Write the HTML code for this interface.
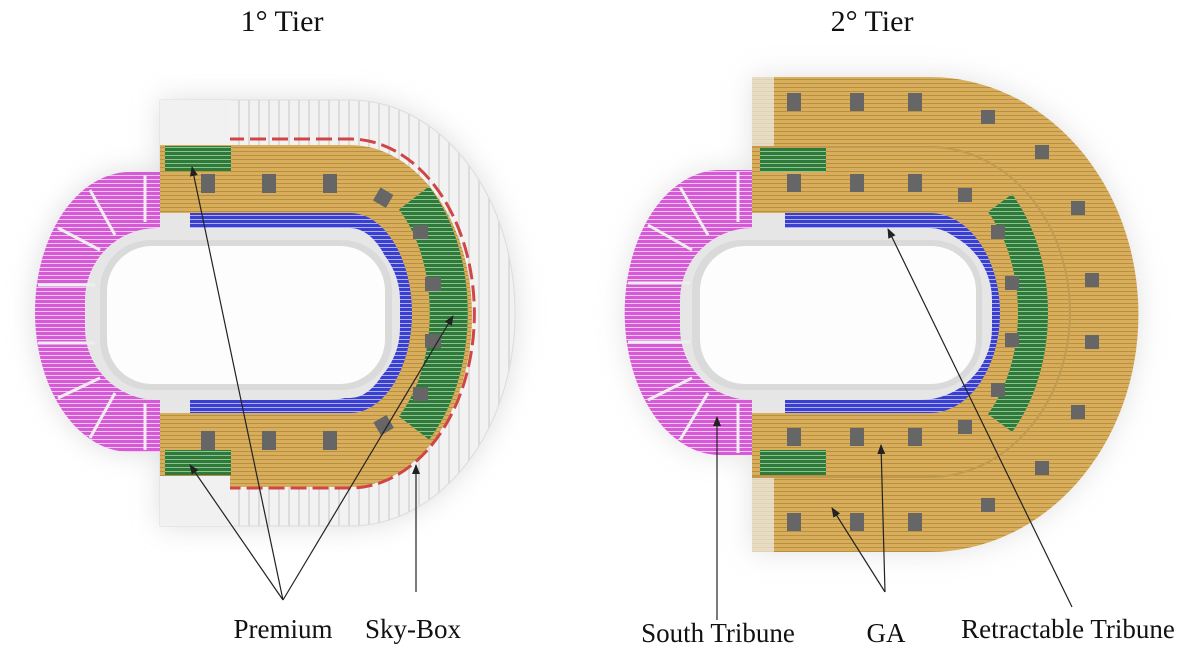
<!DOCTYPE html>
<html><head><meta charset="utf-8"><style>
html,body{margin:0;padding:0;background:#fff;}
svg{display:block}
text{font-family:"Liberation Serif",serif;fill:#111}
</style></head><body>
<svg width="1200" height="654" viewBox="0 0 1200 654" xmlns="http://www.w3.org/2000/svg">
<defs>
<pattern id="gold" width="6" height="4" patternUnits="userSpaceOnUse"><rect width="6" height="4" fill="#d8ae5c"/><rect y="3" width="6" height="1" fill="#b8903f"/></pattern>
<pattern id="pink" width="6" height="4" patternUnits="userSpaceOnUse"><rect width="6" height="4" fill="#d65ad6"/><rect y="3" width="6" height="1" fill="#f4c8f4"/></pattern>
<pattern id="blue" width="6" height="4" patternUnits="userSpaceOnUse"><rect width="6" height="4" fill="#3b3fd0"/><rect y="3" width="6" height="1" fill="#aab0f0"/></pattern>
<pattern id="green" width="6" height="4" patternUnits="userSpaceOnUse"><rect width="6" height="4" fill="#2f7a3a"/><rect y="3" width="6" height="1" fill="#8cc490"/></pattern>
<pattern id="white" width="10" height="6" patternUnits="userSpaceOnUse"><rect width="10" height="6" fill="#f2f2f2"/><rect x="8" width="2" height="6" fill="#dcdcdc"/></pattern>
<filter id="sh" x="-30%" y="-30%" width="160%" height="160%"><feGaussianBlur stdDeviation="14"/></filter>
<marker id="ah" markerWidth="10" markerHeight="10" refX="9" refY="5" orient="auto" markerUnits="userSpaceOnUse"><path d="M0,1 L10,5 L0,9 Z" fill="#222"/></marker>
</defs>

<text x="282" y="31" font-size="30" text-anchor="middle">1° Tier</text>
<text x="872" y="31" font-size="30" text-anchor="middle">2° Tier</text>

<!-- LEFT ARENA -->
<path d="M160,100 H350 A165,213 0 0 1 350,526 H160 V452 H130 A95,140 0 0 1 130,172 H160 Z" fill="#cfcfcf" filter="url(#sh)" opacity="0.7"/>
<path d="M160,100 H350 A165,213 0 0 1 350,526 H160 Z" fill="url(#white)" stroke="#dcdcdc"/>
<path d="M160,145 H350 A122,171 0 0 1 350,487 H160 Z" fill="url(#gold)"/>
<path d="M228,139 H350 A124,174 0 0 1 350,488 H228" fill="none" stroke="#d04545" stroke-width="3" stroke-dasharray="16 6"/>
<path d="M414,198 A97,150 0 0 1 414,428" fill="none" stroke="url(#green)" stroke-width="38"/>
<rect x="165" y="146" width="66" height="25" fill="url(#green)"/>
<rect x="165" y="450" width="66" height="25" fill="url(#green)"/>
<rect x="160" y="100" width="70" height="45" fill="#f1f1f1"/>
<rect x="160" y="476" width="70" height="50" fill="#f1f1f1"/>
<path d="M160,213 H350 A62,100 0 0 1 350,413 H160 Z" fill="url(#blue)"/>
<rect x="160" y="213" width="30" height="200" fill="#e6e6e6"/>
<path d="M160,228 H350 A47,85 0 0 1 350,398 H160 Z" fill="#e6e6e6"/>
<path d="M160,172 H130 A95,140 0 0 0 130,452 H160 Z" fill="url(#pink)"/>
<rect x="85" y="228" width="315" height="172" rx="72" fill="#e6e6e6"/>
<rect x="100" y="240" width="292" height="150" rx="50" fill="#dadada"/>
<rect x="107" y="246" width="278" height="138" rx="45" fill="#fdfdfd"/>
<g fill="#666">
<rect x="201" y="174" width="14" height="19"/><rect x="262" y="174" width="14" height="19"/><rect x="323" y="174" width="14" height="19"/>
<rect x="201" y="431" width="14" height="19"/><rect x="262" y="431" width="14" height="19"/><rect x="323" y="431" width="14" height="19"/>
<rect x="376" y="190" width="15" height="15" transform="rotate(30 383 197)"/>
<rect x="413" y="225" width="15" height="14"/>
<rect x="425" y="277" width="16" height="14"/><rect x="425" y="334" width="16" height="14"/>
<rect x="413" y="387" width="15" height="14"/>
<rect x="376" y="418" width="15" height="15" transform="rotate(-30 383 425)"/>
</g>
<g stroke="#eee" stroke-width="3">
<line x1="145" y1="175" x2="145" y2="222"/><line x1="145" y1="403" x2="145" y2="450"/>
<line x1="38" y1="285" x2="95" y2="285"/><line x1="38" y1="343" x2="95" y2="343"/>
<line x1="58" y1="228" x2="100" y2="250"/><line x1="58" y1="398" x2="100" y2="378"/>
<line x1="90" y1="190" x2="115" y2="235"/><line x1="90" y1="438" x2="115" y2="393"/>
</g>

<!-- RIGHT ARENA -->
<path d="M752,77 H930 A208,237 0 0 1 930,552 H752 V455 H720 A95,142 0 0 1 720,170 H752 Z" fill="#cfcfcf" filter="url(#sh)" opacity="0.6"/>
<path d="M752,77 H930 A208,237 0 0 1 930,552 H752 Z" fill="url(#gold)"/>
<rect x="752" y="77" width="22" height="70" fill="#eee" opacity="0.7"/>
<rect x="752" y="478" width="22" height="74" fill="#eee" opacity="0.7"/>
<path d="M752,147 H930 A140,165 0 0 1 930,477 H752" fill="none" stroke="#bf9a50" stroke-width="2"/>
<path d="M1000,203 A103,150 0 0 1 1000,423" fill="none" stroke="url(#green)" stroke-width="30"/>
<rect x="760" y="148" width="66" height="24" fill="url(#green)"/>
<rect x="760" y="450" width="66" height="25" fill="url(#green)"/>
<path d="M752,213 H930 A70,100 0 0 1 930,413 H752 Z" fill="url(#blue)"/>
<rect x="752" y="213" width="33" height="200" fill="#e6e6e6"/>
<path d="M752,228 H930 A55,85 0 0 1 930,398 H752 Z" fill="#e6e6e6"/>
<path d="M752,170 H720 A95,142 0 0 0 720,455 H752 Z" fill="url(#pink)"/>
<rect x="680" y="228" width="312" height="172" rx="72" fill="#e6e6e6"/>
<rect x="692" y="240" width="290" height="150" rx="50" fill="#dadada"/>
<rect x="700" y="246" width="276" height="138" rx="45" fill="#fdfdfd"/>
<g fill="#666">
<rect x="787" y="93" width="14" height="18"/><rect x="850" y="93" width="14" height="18"/><rect x="908" y="93" width="14" height="18"/>
<rect x="981" y="110" width="14" height="14"/><rect x="1035" y="145" width="14" height="14"/><rect x="1071" y="201" width="14" height="14"/>
<rect x="1085" y="273" width="14" height="14"/><rect x="1085" y="335" width="14" height="14"/><rect x="1071" y="405" width="14" height="14"/>
<rect x="1035" y="461" width="14" height="14"/><rect x="981" y="498" width="14" height="14"/>
<rect x="787" y="513" width="14" height="18"/><rect x="850" y="513" width="14" height="18"/><rect x="908" y="513" width="14" height="18"/>
<rect x="787" y="174" width="14" height="18"/><rect x="850" y="174" width="14" height="18"/><rect x="908" y="174" width="14" height="18"/>
<rect x="958" y="188" width="14" height="14"/><rect x="991" y="225" width="14" height="14"/><rect x="1005" y="276" width="14" height="14"/>
<rect x="1005" y="333" width="14" height="14"/><rect x="991" y="383" width="14" height="14"/><rect x="958" y="420" width="14" height="14"/>
<rect x="787" y="428" width="14" height="18"/><rect x="850" y="428" width="14" height="18"/><rect x="908" y="428" width="14" height="18"/>
</g>
<g stroke="#eee" stroke-width="3">
<line x1="738" y1="172" x2="738" y2="222"/><line x1="738" y1="403" x2="738" y2="453"/>
<line x1="628" y1="283" x2="690" y2="283"/><line x1="628" y1="342" x2="690" y2="342"/>
<line x1="648" y1="225" x2="692" y2="250"/><line x1="648" y1="400" x2="692" y2="378"/>
<line x1="680" y1="187" x2="708" y2="235"/><line x1="680" y1="440" x2="708" y2="393"/>
</g>

<!-- ARROWS -->
<g stroke="#222" stroke-width="1.2" fill="none" marker-end="url(#ah)">
<line x1="283" y1="600" x2="192" y2="167"/>
<line x1="283" y1="600" x2="190" y2="465"/>
<line x1="283" y1="600" x2="453" y2="316"/>
<line x1="416" y1="592" x2="416" y2="465"/>
<line x1="717" y1="620" x2="717" y2="417"/>
<line x1="885" y1="592" x2="881" y2="445"/>
<line x1="885" y1="592" x2="832" y2="508"/>
<line x1="1072" y1="607" x2="888" y2="229"/>
</g>

<text x="283" y="638" font-size="27" text-anchor="middle">Premium</text>
<text x="413" y="638" font-size="27" text-anchor="middle">Sky-Box</text>
<text x="718" y="642" font-size="27" text-anchor="middle">South Tribune</text>
<text x="886" y="642" font-size="27" text-anchor="middle">GA</text>
<text x="1068" y="638" font-size="27" text-anchor="middle">Retractable Tribune</text>
</svg>
</body></html>
